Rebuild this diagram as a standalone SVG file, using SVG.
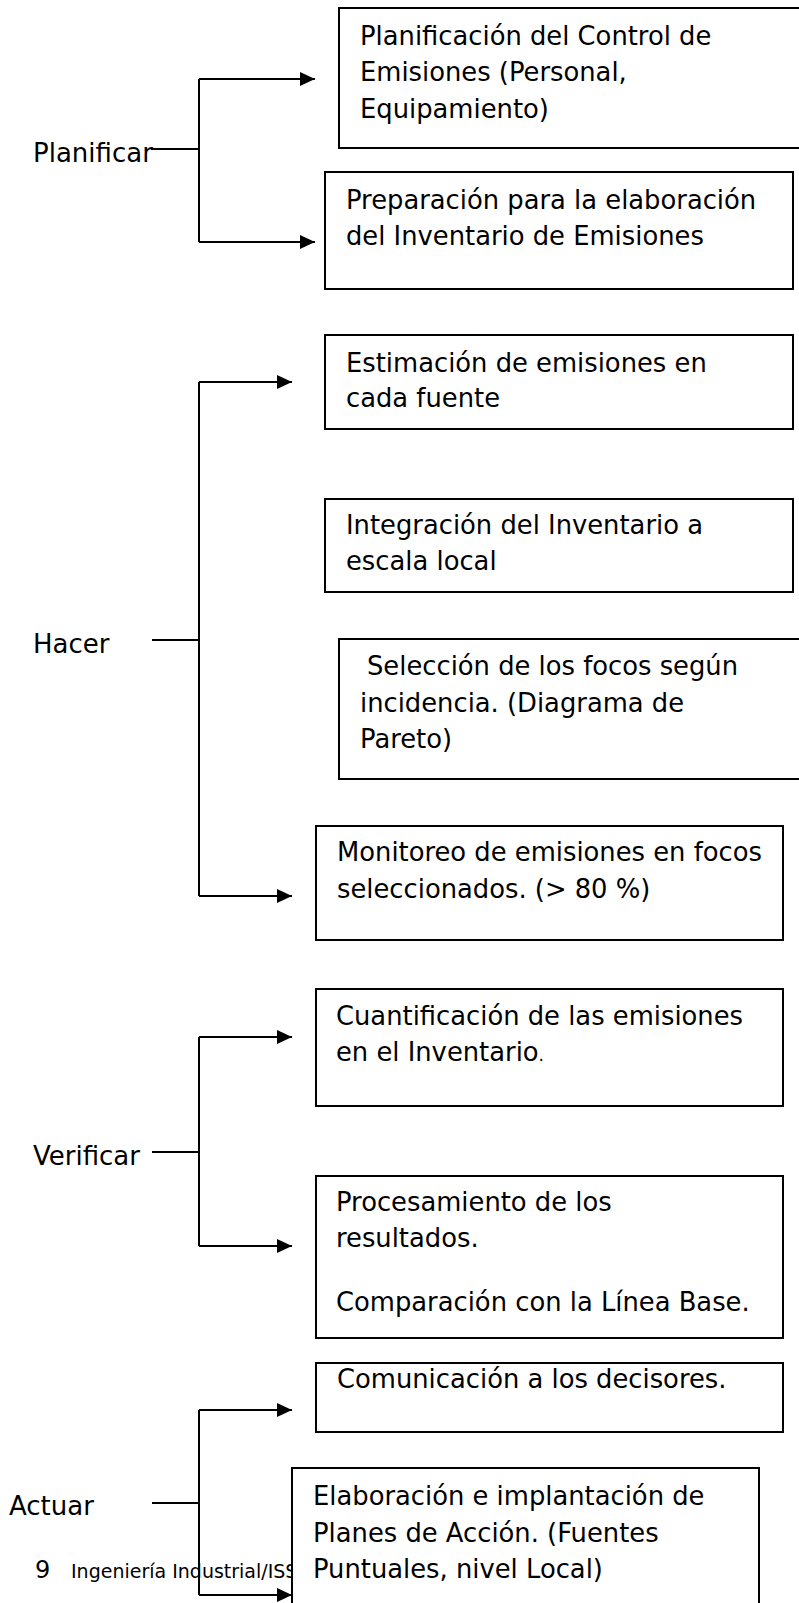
<svg xmlns="http://www.w3.org/2000/svg" width="799" height="1603" viewBox="0 0 799 1603">
<style>
.box{fill:#fff;stroke:#000;stroke-width:2}
.t{font-family:"DejaVu Sans","Verdana",sans-serif;font-size:25.8px;fill:#000}
.lbl{font-family:"DejaVu Sans","Verdana",sans-serif;font-size:26px;fill:#000}
.c{fill:none;stroke:#000;stroke-width:2}
.a{fill:none;stroke:#000;stroke-width:2;marker-end:url(#ah)}
</style>
<defs>
<marker id="ah" markerUnits="userSpaceOnUse" markerWidth="16" markerHeight="14" refX="15" refY="7" orient="auto">
<path d="M0,0 L15,7 L0,14 z" fill="#000"/>
</marker>
</defs>
<g id="footer">
<text x="35" y="1578" style="font-family:'DejaVu Sans',sans-serif;font-size:24px">9</text>
<text x="71" y="1578" style="font-family:'DejaVu Sans',sans-serif;font-size:19px">Ingeniería Industrial/ISS</text>
</g>
<g id="connectors">
<path class="c" d="M151,149 H199 M199,79 V242"/>
<path class="a" d="M199,79 H315"/>
<path class="a" d="M199,242 H315"/>
<path class="c" d="M152,640 H199 M199,382 V896"/>
<path class="a" d="M199,382 H292"/>
<path class="a" d="M199,896 H292"/>
<path class="c" d="M152,1152 H199 M199,1037 V1246"/>
<path class="a" d="M199,1037 H292"/>
<path class="a" d="M199,1246 H292"/>
<path class="c" d="M152,1503 H199 M199,1410 V1595"/>
<path class="a" d="M199,1410 H292"/>
<path class="a" d="M199,1595 H292"/>
</g>
<g id="planificar"><text class="lbl" x="33" y="162">Planificar</text></g>
<g id="hacer"><text class="lbl" x="33" y="653">Hacer</text></g>
<g id="verificar"><text class="lbl" x="33" y="1165">Verificar</text></g>
<g id="actuar"><text class="lbl" x="9" y="1515">Actuar</text></g>
<g id="n1">
<rect class="box" x="339" y="8" width="470" height="140"/>
<text class="t" x="360" y="45">Planificación del Control de</text>
<text class="t" x="360" y="81">Emisiones (Personal,</text>
<text class="t" x="360" y="118">Equipamiento)</text>
</g>
<g id="n2">
<rect class="box" x="325" y="172" width="468" height="117"/>
<text class="t" x="346" y="209">Preparación para la elaboración</text>
<text class="t" x="346" y="245">del Inventario de Emisiones</text>
</g>
<g id="n3">
<rect class="box" x="325" y="335" width="468" height="94"/>
<text class="t" x="346" y="372">Estimación de emisiones en</text>
<text class="t" x="346" y="407">cada fuente</text>
</g>
<g id="n4">
<rect class="box" x="325" y="499" width="468" height="93"/>
<text class="t" x="346" y="534">Integración del Inventario a</text>
<text class="t" x="346" y="570">escala local</text>
</g>
<g id="n5">
<rect class="box" x="339" y="639" width="470" height="140"/>
<text class="t" x="367" y="675">Selección de los focos según</text>
<text class="t" x="360" y="712">incidencia. (Diagrama de</text>
<text class="t" x="360" y="748">Pareto)</text>
</g>
<g id="n6">
<rect class="box" x="316" y="826" width="467" height="114"/>
<text class="t" x="337" y="861">Monitoreo de emisiones en focos</text>
<text class="t" x="337" y="898">seleccionados. (&gt; 80 %)</text>
</g>
<g id="n7">
<rect class="box" x="316" y="989" width="467" height="117"/>
<text class="t" x="336" y="1025">Cuantificación de las emisiones</text>
<text class="t" x="336" y="1061">en el Inventario<tspan style="font-size:17px">.</tspan></text>
</g>
<g id="n8">
<rect class="box" x="316" y="1176" width="467" height="162"/>
<text class="t" x="336" y="1211">Procesamiento de los</text>
<text class="t" x="336" y="1247">resultados.</text>
<text class="t" x="336" y="1311">Comparación con la Línea Base.</text>
</g>
<g id="n9">
<rect class="box" x="316" y="1363" width="467" height="69"/>
<text class="t" x="337" y="1388">Comunicación a los decisores.</text>
</g>
<g id="n10">
<rect class="box" x="292" y="1468" width="467" height="150"/>
<text class="t" x="313" y="1505">Elaboración e implantación de</text>
<text class="t" x="313" y="1542">Planes de Acción. (Fuentes</text>
<text class="t" x="313" y="1578">Puntuales, nivel Local)</text>
</g>
</svg>
